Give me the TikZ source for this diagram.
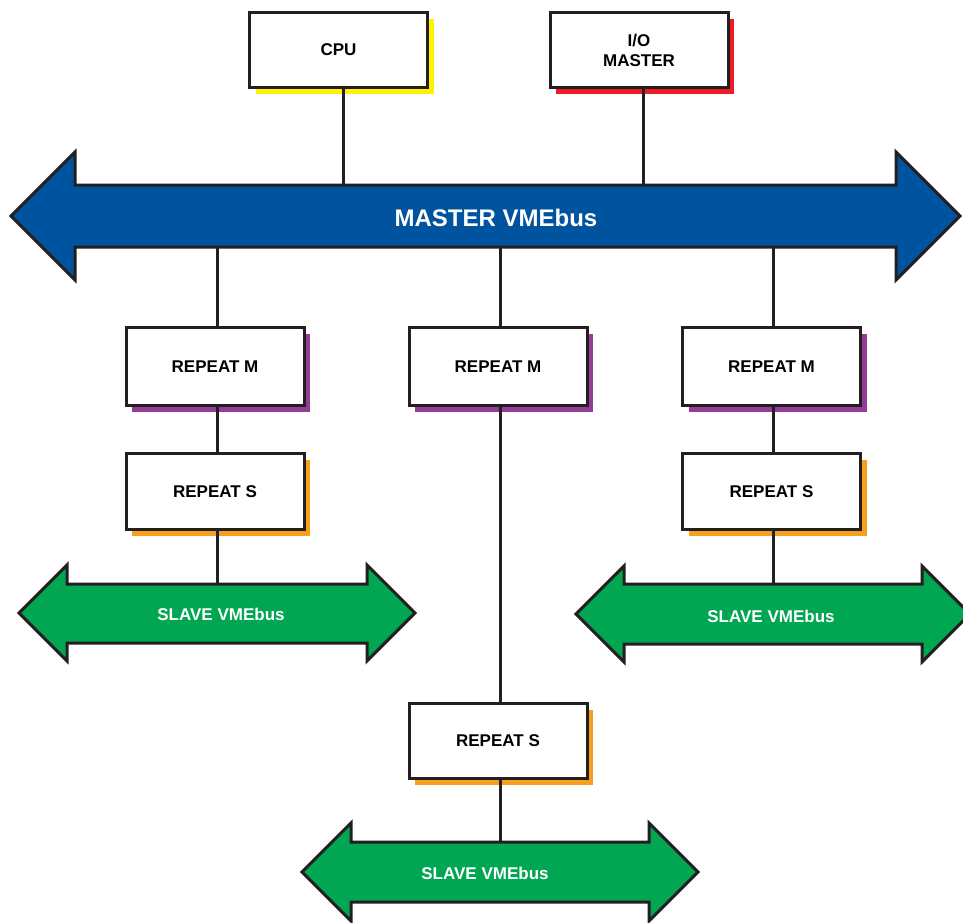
\documentclass[tikz,border=0pt]{standalone}
\usepackage{fontspec}
\setmainfont{Liberation Sans}
\definecolor{busblue}{RGB}{0,83,159}
\definecolor{busgreen}{RGB}{0,166,81}
\definecolor{shyellow}{RGB}{255,242,0}
\definecolor{shred}{RGB}{237,28,36}
\definecolor{shpurple}{RGB}{149,61,150}
\definecolor{shorange}{RGB}{247,160,30}
\definecolor{ink}{RGB}{35,31,32}
\tikzset{
  unitbox/.style={draw=ink, line width=3pt, fill=white, minimum width=178pt, inner sep=0pt,
    align=center, font=\fontsize{17}{20}\selectfont\bfseries,
    preaction={fill=#1, transform canvas={shift={(6pt,-6pt)}}}},
  busshape/.style={draw=ink, line width=3pt, line join=miter, fill=#1},
  buslabel/.style={text=white, font=\fontsize{17}{20}\selectfont\bfseries, inner sep=0pt},
  wire/.style={draw=ink, line width=3pt}
}
\begin{document}
\begin{tikzpicture}[x=1pt,y=-1pt]
\useasboundingbox (0,0) rectangle (963,922);
\clip (0,0) rectangle (963,922);
% buses
\draw[busshape=busblue] (11,216) -- (75,152) -- (75,185) -- (896,185) -- (896,152) -- (960,216)
  -- (896,280) -- (896,247) -- (75,247) -- (75,280) -- cycle;
\draw[busshape=busgreen] (19,613) -- (67,565) -- (67,584) -- (367,584) -- (367,565) -- (415,613)
  -- (367,661) -- (367,643) -- (67,643) -- (67,661) -- cycle;
\draw[busshape=busgreen] (576,614) -- (624,566) -- (624,584) -- (922,584) -- (922,566) -- (970,614)
  -- (922,662) -- (922,644) -- (624,644) -- (624,662) -- cycle;
\draw[busshape=busgreen] (302,872) -- (351,823) -- (351,842) -- (649,842) -- (649,823) -- (698,872)
  -- (649,921) -- (649,902) -- (351,902) -- (351,921) -- cycle;
\node[buslabel, font=\fontsize{24}{28}\selectfont\bfseries] (mlabel) at (496,218) {MASTER VMEbus};
\node[buslabel] (slabel1) at (221,614) {SLAVE VMEbus};
\node[buslabel] (slabel3) at (771,616) {SLAVE VMEbus};
\node[buslabel] (slabel2) at (485,873) {SLAVE VMEbus};
% bus edges
\coordinate (mtop) at (0,185);
\coordinate (mbot) at (0,247);
\coordinate (s1top) at (0,584);
\coordinate (s3top) at (0,584);
\coordinate (s2top) at (0,842);
% boxes
\node[unitbox=shyellow, minimum height=75pt] (cpu) at (338.5,50) {CPU};
\node[unitbox=shred, minimum height=75pt] (io) at (639,50) {I/O\\MASTER};
\node[unitbox=shpurple, minimum height=78pt] (rm1) at (215,366.5) {REPEAT M};
\node[unitbox=shorange, minimum height=76pt] (rs1) at (215,491.5) {REPEAT S};
\node[unitbox=shpurple, minimum height=78pt] (rm2) at (498,366.5) {REPEAT M};
\node[unitbox=shorange, minimum height=75pt] (rs2) at (498,741) {REPEAT S};
\node[unitbox=shpurple, minimum height=78pt] (rm3) at (771.5,366.5) {REPEAT M};
\node[unitbox=shorange, minimum height=76pt] (rs3) at (771.5,491.5) {REPEAT S};
% connectors
\draw[wire] ([xshift=4.5pt]cpu.south) -- ([xshift=4.5pt]cpu.south |- mtop);
\draw[wire] ([xshift=4pt]io.south) -- ([xshift=4pt]io.south |- mtop);
\draw[wire] ([xshift=2pt]rm1.north |- mbot) -- ([xshift=2pt]rm1.north);
\draw[wire] ([xshift=2pt]rm1.south) -- ([xshift=2pt]rs1.north);
\draw[wire] ([xshift=2pt]rs1.south) -- ([xshift=2pt]rs1.south |- s1top);
\draw[wire] ([xshift=2pt]rm2.north |- mbot) -- ([xshift=2pt]rm2.north);
\draw[wire] ([xshift=2pt]rm2.south) -- ([xshift=2pt]rs2.north);
\draw[wire] ([xshift=2pt]rs2.south) -- ([xshift=2pt]rs2.south |- s2top);
\draw[wire] ([xshift=1.5pt]rm3.north |- mbot) -- ([xshift=1.5pt]rm3.north);
\draw[wire] ([xshift=1.5pt]rm3.south) -- ([xshift=1.5pt]rs3.north);
\draw[wire] ([xshift=1.5pt]rs3.south) -- ([xshift=1.5pt]rs3.south |- s3top);
\end{tikzpicture}
\end{document}
